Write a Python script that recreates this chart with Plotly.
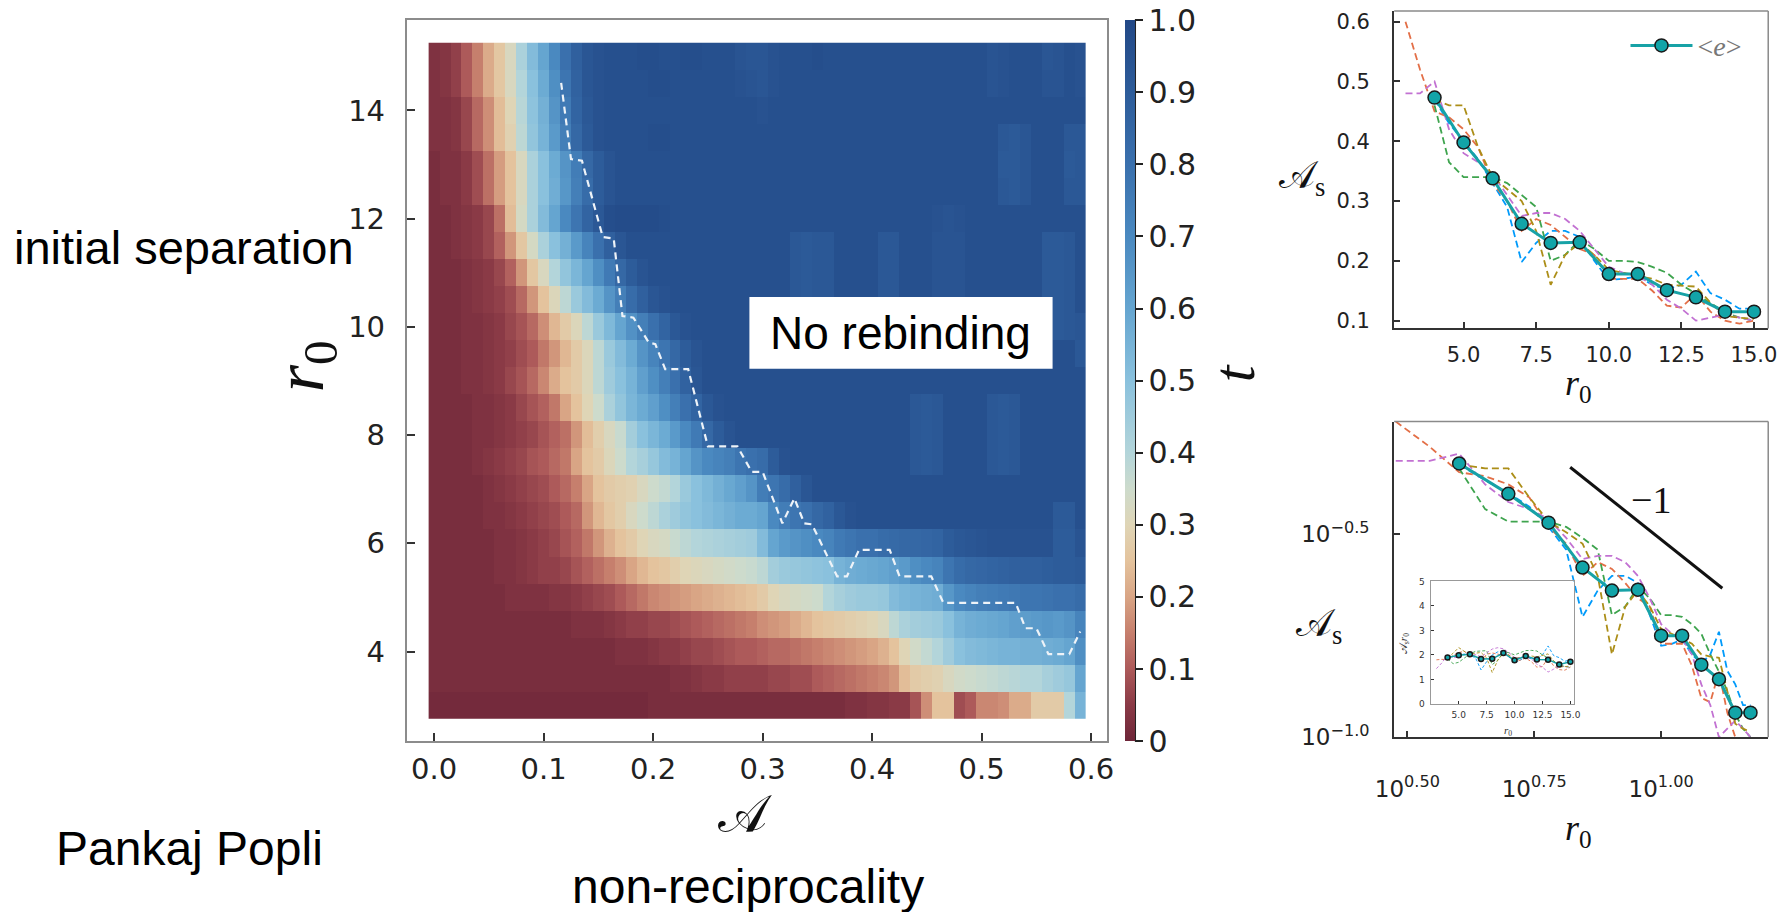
import plotly.graph_objects as go

W, H = 1791, 912
def px(x): return x / W
def py(y): return 1 - y / H

# ---------------- heatmap data ----------------
A_grid = [0.00, 0.01, 0.02, 0.03, 0.04, 0.05, 0.06, 0.07, 0.08, 0.09,
          0.10, 0.11, 0.12, 0.13, 0.14, 0.15, 0.16, 0.17, 0.18, 0.19,
          0.20, 0.21, 0.22, 0.23, 0.24, 0.25, 0.26, 0.27, 0.28, 0.29,
          0.30, 0.31, 0.32, 0.33, 0.34, 0.35, 0.36, 0.37, 0.38, 0.39,
          0.40, 0.41, 0.42, 0.43, 0.44, 0.45, 0.46, 0.47, 0.48, 0.49,
          0.50, 0.51, 0.52, 0.53, 0.54, 0.55, 0.56, 0.57, 0.58, 0.59]
r0_grid = [3.0, 3.5, 4.0, 4.5, 5.0, 5.5, 6.0, 6.5, 7.0, 7.5, 8.0, 8.5, 9.0,
           9.5, 10.0, 10.5, 11.0, 11.5, 12.0, 12.5, 13.0, 13.5, 14.0, 14.5, 15.0]

t_r15_0 = [0.03,0.04,0.06,0.10,0.15,0.21,0.26,0.32,0.42,0.52,
           0.60,0.70,0.80,0.88,0.93,0.95,0.96,0.96,0.96,0.97,
           0.97,0.96,0.96,0.97,0.97,0.96,0.96,0.96,0.94,0.93,
           0.93,0.95,0.96,0.96,0.96,0.97,0.96,0.96,0.96,0.96,
           0.96,0.96,0.96,0.96,0.96,0.96,0.96,0.96,0.96,0.96,
           0.96,0.94,0.95,0.96,0.96,0.96,0.93,0.94,0.96,0.95]
t_r14_5 = [0.03,0.04,0.06,0.10,0.15,0.21,0.26,0.32,0.40,0.50,
           0.58,0.68,0.78,0.87,0.93,0.95,0.96,0.96,0.96,0.96,
           0.97,0.97,0.96,0.96,0.96,0.96,0.96,0.96,0.95,0.94,
           0.93,0.95,0.96,0.96,0.96,0.96,0.96,0.96,0.96,0.96,
           0.96,0.96,0.96,0.96,0.96,0.96,0.96,0.96,0.96,0.96,
           0.96,0.94,0.95,0.96,0.96,0.96,0.94,0.94,0.96,0.95]
t_r14_0 = [0.03,0.03,0.04,0.07,0.12,0.17,0.24,0.30,0.39,0.49,
           0.56,0.66,0.76,0.86,0.92,0.95,0.96,0.96,0.96,0.96,
           0.96,0.96,0.96,0.96,0.96,0.96,0.96,0.96,0.96,0.96,
           0.95,0.96,0.96,0.96,0.96,0.96,0.96,0.96,0.96,0.96,
           0.96,0.96,0.96,0.96,0.96,0.96,0.96,0.96,0.96,0.96,
           0.96,0.96,0.96,0.96,0.96,0.96,0.96,0.96,0.96,0.96]
t_r13_5 = [0.03,0.03,0.04,0.07,0.12,0.17,0.24,0.29,0.38,0.48,
           0.55,0.64,0.74,0.84,0.91,0.95,0.96,0.96,0.96,0.96,
           0.97,0.97,0.96,0.96,0.96,0.96,0.96,0.96,0.96,0.96,
           0.96,0.96,0.96,0.96,0.96,0.96,0.96,0.96,0.96,0.96,
           0.96,0.96,0.96,0.96,0.96,0.96,0.96,0.96,0.96,0.96,
           0.96,0.96,0.92,0.91,0.93,0.96,0.96,0.96,0.92,0.92]
t_r13_0 = [0.02,0.03,0.03,0.05,0.08,0.13,0.19,0.25,0.32,0.42,
           0.50,0.58,0.66,0.75,0.84,0.90,0.94,0.96,0.96,0.96,
           0.96,0.96,0.96,0.96,0.96,0.96,0.96,0.96,0.96,0.96,
           0.96,0.96,0.96,0.96,0.96,0.96,0.96,0.96,0.96,0.96,
           0.96,0.96,0.96,0.96,0.96,0.96,0.96,0.96,0.96,0.96,
           0.96,0.96,0.91,0.91,0.93,0.96,0.96,0.96,0.91,0.92]
t_r12_5 = [0.02,0.03,0.03,0.05,0.08,0.13,0.19,0.25,0.32,0.42,
           0.50,0.57,0.65,0.74,0.82,0.90,0.94,0.96,0.96,0.96,
           0.96,0.96,0.96,0.96,0.96,0.96,0.96,0.96,0.96,0.96,
           0.96,0.96,0.96,0.96,0.96,0.96,0.96,0.96,0.96,0.96,
           0.96,0.96,0.96,0.96,0.96,0.96,0.96,0.96,0.96,0.96,
           0.96,0.96,0.92,0.91,0.93,0.96,0.96,0.96,0.92,0.92]
t_r12_0 = [0.02,0.02,0.03,0.04,0.05,0.07,0.13,0.24,0.33,0.42,
           0.52,0.60,0.70,0.78,0.86,0.92,0.97,0.98,0.98,0.98,
           0.98,0.97,0.96,0.96,0.96,0.96,0.96,0.96,0.96,0.96,
           0.96,0.96,0.96,0.96,0.96,0.96,0.96,0.96,0.96,0.96,
           0.96,0.96,0.96,0.96,0.96,0.96,0.95,0.94,0.95,0.96,
           0.96,0.96,0.96,0.96,0.96,0.96,0.96,0.96,0.96,0.96]
t_r11_5 = [0.02,0.02,0.03,0.04,0.05,0.07,0.11,0.18,0.26,0.33,
           0.42,0.50,0.56,0.64,0.72,0.80,0.88,0.93,0.96,0.96,
           0.96,0.96,0.96,0.96,0.96,0.96,0.96,0.96,0.96,0.96,
           0.96,0.96,0.96,0.92,0.91,0.92,0.92,0.96,0.96,0.96,
           0.96,0.92,0.92,0.96,0.96,0.96,0.94,0.94,0.94,0.96,
           0.96,0.96,0.96,0.96,0.96,0.96,0.91,0.91,0.92,0.96]
t_r11_0 = [0.02,0.02,0.02,0.03,0.04,0.05,0.07,0.11,0.18,0.26,
           0.32,0.40,0.48,0.54,0.60,0.68,0.76,0.84,0.90,0.94,
           0.96,0.96,0.96,0.96,0.96,0.96,0.96,0.96,0.96,0.96,
           0.96,0.96,0.96,0.92,0.91,0.92,0.92,0.96,0.96,0.96,
           0.96,0.92,0.92,0.96,0.96,0.96,0.94,0.94,0.94,0.96,
           0.96,0.96,0.96,0.96,0.96,0.96,0.91,0.91,0.92,0.96]
t_r10_5 = [0.02,0.02,0.02,0.03,0.04,0.05,0.06,0.08,0.12,0.18,
           0.25,0.31,0.38,0.46,0.52,0.58,0.66,0.74,0.82,0.88,
           0.93,0.95,0.96,0.96,0.96,0.96,0.96,0.96,0.96,0.96,
           0.96,0.96,0.96,0.92,0.91,0.92,0.92,0.96,0.96,0.96,
           0.96,0.92,0.92,0.96,0.96,0.96,0.94,0.94,0.94,0.96,
           0.96,0.96,0.96,0.96,0.96,0.96,0.91,0.91,0.92,0.96]
t_r10_0 = [0.02,0.02,0.02,0.03,0.03,0.04,0.05,0.07,0.09,0.12,
           0.17,0.23,0.27,0.31,0.38,0.46,0.53,0.60,0.67,0.74,
           0.80,0.86,0.92,0.95,0.96,0.96,0.96,0.96,0.96,0.96,
           0.96,0.96,0.96,0.96,0.96,0.96,0.96,0.96,0.96,0.96,
           0.96,0.96,0.96,0.96,0.96,0.96,0.96,0.96,0.96,0.96,
           0.96,0.96,0.96,0.96,0.96,0.96,0.92,0.91,0.92,0.93]
t_r9_5 = [0.02,0.02,0.02,0.03,0.03,0.04,0.05,0.06,0.08,0.10,
          0.14,0.18,0.23,0.27,0.31,0.38,0.46,0.52,0.58,0.66,
          0.72,0.78,0.84,0.90,0.94,0.96,0.96,0.96,0.96,0.96,
          0.96,0.96,0.96,0.96,0.96,0.96,0.96,0.96,0.96,0.96,
          0.96,0.96,0.96,0.96,0.96,0.96,0.96,0.96,0.96,0.96,
          0.96,0.96,0.96,0.96,0.96,0.96,0.96,0.96,0.96,0.92]
t_r9_0 = [0.02,0.02,0.02,0.03,0.03,0.04,0.05,0.07,0.09,0.12,
          0.16,0.21,0.25,0.27,0.31,0.38,0.45,0.50,0.55,0.62,
          0.68,0.74,0.80,0.87,0.93,0.96,0.96,0.96,0.96,0.96,
          0.96,0.96,0.96,0.96,0.96,0.96,0.96,0.96,0.96,0.96,
          0.96,0.96,0.96,0.96,0.96,0.96,0.96,0.96,0.96,0.96,
          0.96,0.96,0.96,0.96,0.96,0.96,0.96,0.96,0.96,0.96]
t_r8_5 = [0.02,0.02,0.02,0.02,0.03,0.03,0.04,0.05,0.07,0.09,
          0.11,0.14,0.20,0.25,0.30,0.35,0.42,0.48,0.54,0.58,
          0.62,0.68,0.74,0.80,0.86,0.92,0.95,0.96,0.96,0.96,
          0.96,0.96,0.96,0.96,0.96,0.96,0.96,0.96,0.96,0.96,
          0.96,0.96,0.96,0.96,0.92,0.91,0.92,0.96,0.96,0.96,
          0.96,0.92,0.91,0.92,0.96,0.96,0.96,0.96,0.96,0.96]
t_r8_0 = [0.02,0.02,0.02,0.02,0.03,0.03,0.04,0.05,0.06,0.07,
          0.09,0.11,0.13,0.18,0.24,0.28,0.32,0.36,0.44,0.50,
          0.54,0.58,0.64,0.70,0.76,0.84,0.90,0.94,0.96,0.96,
          0.96,0.96,0.96,0.96,0.96,0.96,0.96,0.96,0.96,0.96,
          0.96,0.96,0.96,0.96,0.92,0.91,0.92,0.96,0.96,0.96,
          0.96,0.92,0.91,0.92,0.96,0.96,0.96,0.96,0.96,0.96]
t_r7_5 = [0.02,0.02,0.02,0.02,0.03,0.04,0.05,0.06,0.07,0.09,
          0.10,0.12,0.14,0.20,0.25,0.27,0.31,0.35,0.40,0.43,
          0.47,0.52,0.55,0.60,0.66,0.70,0.72,0.74,0.78,0.80,
          0.82,0.90,0.95,0.96,0.96,0.96,0.96,0.96,0.96,0.96,
          0.96,0.96,0.96,0.96,0.92,0.91,0.92,0.96,0.96,0.96,
          0.96,0.92,0.91,0.92,0.96,0.96,0.96,0.96,0.96,0.96]
t_r7_0 = [0.02,0.02,0.02,0.02,0.02,0.03,0.04,0.05,0.06,0.07,
          0.08,0.10,0.12,0.15,0.20,0.25,0.27,0.28,0.29,0.32,
          0.35,0.37,0.40,0.46,0.50,0.53,0.56,0.59,0.62,0.66,
          0.75,0.78,0.82,0.88,0.93,0.96,0.96,0.96,0.96,0.96,
          0.96,0.96,0.96,0.96,0.96,0.96,0.96,0.96,0.96,0.96,
          0.96,0.96,0.96,0.96,0.96,0.96,0.96,0.96,0.96,0.96]
t_r6_5 = [0.02,0.02,0.02,0.02,0.02,0.03,0.03,0.04,0.05,0.06,
          0.07,0.08,0.10,0.12,0.18,0.23,0.26,0.28,0.32,0.35,
          0.38,0.42,0.45,0.48,0.50,0.52,0.54,0.56,0.58,0.58,
          0.60,0.70,0.75,0.78,0.80,0.84,0.87,0.92,0.95,0.96,
          0.96,0.96,0.96,0.96,0.96,0.96,0.96,0.96,0.96,0.96,
          0.96,0.96,0.96,0.96,0.96,0.96,0.96,0.91,0.91,0.96]
t_r6_0 = [0.02,0.02,0.02,0.02,0.02,0.02,0.03,0.03,0.04,0.05,
          0.06,0.07,0.09,0.11,0.14,0.18,0.22,0.25,0.27,0.30,
          0.32,0.33,0.36,0.38,0.40,0.41,0.42,0.43,0.44,0.45,
          0.52,0.60,0.64,0.66,0.68,0.70,0.72,0.76,0.78,0.80,
          0.80,0.82,0.83,0.84,0.84,0.85,0.86,0.90,0.92,0.93,
          0.94,0.95,0.95,0.95,0.95,0.95,0.95,0.90,0.90,0.94]
t_r5_5 = [0.02,0.02,0.02,0.02,0.02,0.02,0.03,0.03,0.04,0.05,
          0.06,0.06,0.07,0.09,0.11,0.13,0.15,0.17,0.20,0.23,
          0.25,0.26,0.28,0.30,0.31,0.32,0.33,0.34,0.35,0.36,
          0.38,0.44,0.46,0.47,0.48,0.49,0.50,0.55,0.57,0.58,
          0.59,0.60,0.62,0.64,0.68,0.70,0.72,0.78,0.82,0.84,
          0.85,0.86,0.87,0.88,0.88,0.88,0.89,0.90,0.90,0.91]
t_r5_0 = [0.02,0.02,0.02,0.02,0.02,0.02,0.02,0.03,0.03,0.03,
          0.03,0.04,0.04,0.05,0.06,0.07,0.08,0.10,0.12,0.14,
          0.16,0.17,0.18,0.19,0.20,0.21,0.22,0.23,0.24,0.25,
          0.27,0.30,0.32,0.33,0.34,0.35,0.40,0.43,0.45,0.46,
          0.46,0.47,0.52,0.54,0.55,0.56,0.57,0.65,0.70,0.72,
          0.74,0.75,0.76,0.77,0.78,0.78,0.79,0.80,0.80,0.82]
t_r4_5 = [0.02,0.02,0.02,0.02,0.02,0.02,0.02,0.02,0.02,0.02,
          0.02,0.02,0.02,0.03,0.03,0.03,0.04,0.05,0.06,0.06,
          0.07,0.07,0.08,0.09,0.10,0.11,0.12,0.13,0.14,0.15,
          0.17,0.18,0.19,0.21,0.23,0.25,0.26,0.27,0.28,0.29,
          0.30,0.32,0.38,0.42,0.44,0.45,0.46,0.50,0.55,0.57,
          0.58,0.59,0.60,0.62,0.63,0.64,0.65,0.64,0.66,0.72]
t_r4_0 = [0.02,0.02,0.02,0.02,0.02,0.02,0.02,0.02,0.02,0.02,
          0.02,0.02,0.02,0.02,0.02,0.02,0.02,0.03,0.03,0.03,
          0.04,0.05,0.05,0.06,0.07,0.07,0.08,0.09,0.10,0.10,
          0.11,0.12,0.12,0.13,0.14,0.15,0.16,0.17,0.18,0.19,
          0.20,0.22,0.25,0.30,0.34,0.37,0.40,0.45,0.50,0.52,
          0.53,0.54,0.55,0.55,0.56,0.56,0.57,0.58,0.60,0.68]
t_r3_5 = [0.02,0.02,0.02,0.02,0.02,0.02,0.02,0.02,0.02,0.02,
          0.02,0.02,0.02,0.02,0.02,0.02,0.02,0.02,0.02,0.02,
          0.02,0.02,0.03,0.03,0.04,0.05,0.05,0.06,0.06,0.06,
          0.06,0.07,0.07,0.08,0.08,0.10,0.11,0.12,0.13,0.14,
          0.15,0.16,0.18,0.24,0.27,0.28,0.29,0.32,0.34,0.35,
          0.36,0.37,0.38,0.39,0.40,0.40,0.43,0.45,0.47,0.60]
t_r3_0 = [0.01,0.01,0.01,0.01,0.01,0.01,0.01,0.01,0.01,0.01,
          0.01,0.01,0.01,0.01,0.01,0.01,0.01,0.01,0.01,0.01,
          0.02,0.02,0.02,0.02,0.02,0.02,0.02,0.02,0.02,0.02,
          0.02,0.02,0.02,0.02,0.02,0.02,0.02,0.02,0.03,0.03,
          0.04,0.04,0.05,0.05,0.09,0.17,0.25,0.25,0.08,0.10,
          0.16,0.16,0.17,0.21,0.21,0.27,0.27,0.27,0.40,0.55]

# threshold (white dashed) line
thr_A = [0.116, 0.125, 0.135, 0.154, 0.164, 0.172, 0.182, 0.196, 0.202, 0.211,
         0.232, 0.250, 0.277, 0.290, 0.300, 0.318, 0.329, 0.338, 0.345, 0.368,
         0.377, 0.388, 0.416, 0.425, 0.454, 0.465, 0.531, 0.540, 0.550, 0.561,
         0.580, 0.590]
thr_r0 = [14.51, 13.10, 13.07, 11.66, 11.63, 10.20, 10.17, 9.71, 9.68, 9.22,
          9.22, 7.79, 7.79, 7.32, 7.32, 6.37, 6.83, 6.37, 6.35, 5.39,
          5.39, 5.88, 5.88, 5.39, 5.39, 4.90, 4.90, 4.43, 4.43, 3.95,
          3.95, 4.37]

# ---------------- right panels data ----------------
run_r0 = [3.0, 3.5, 4.0, 4.5, 5.0, 5.5, 6.0, 6.5, 7.0, 7.5, 8.0, 8.5, 9.0,
          9.5, 10.0, 10.5, 11.0, 11.5, 12.0, 12.5, 13.0, 13.5, 14.0, 14.5, 15.0]
run_blue   = [None, None, 0.47, 0.43, 0.40, 0.37, 0.33, 0.29, 0.198, 0.23, 0.25, 0.25, 0.24,
              0.20, 0.168, 0.17, 0.174, 0.16, 0.152, 0.16, 0.182, 0.146, 0.135, 0.12, 0.12]
run_orange = [0.60, 0.52, 0.45, 0.44, 0.42, 0.39, 0.33, 0.30, 0.25, 0.27, 0.26, 0.24, 0.22,
              0.21, 0.17, 0.17, 0.17, 0.15, 0.125, 0.122, 0.145, 0.115, 0.10, 0.095, 0.10]
run_green  = [None, None, 0.46, 0.365, 0.34, 0.34, 0.34, 0.33, 0.31, 0.29, 0.20, 0.21, 0.235,
              0.22, 0.20, 0.20, 0.198, 0.19, 0.18, 0.16, 0.145, 0.13, 0.114, 0.105, 0.10]
run_purple = [0.48, 0.48, 0.50, 0.42, 0.38, 0.365, 0.345, 0.31, 0.275, 0.28, 0.28, 0.27, 0.25,
              0.22, 0.19, 0.18, 0.175, 0.16, 0.135, 0.12, 0.10, 0.105, 0.11, 0.105, 0.10]
run_olive  = [None, None, 0.47, 0.46, 0.46, 0.39, 0.34, 0.32, 0.30, 0.25, 0.16, 0.21, 0.23,
              0.21, 0.185, 0.18, 0.175, 0.17, 0.16, 0.158, 0.157, 0.13, 0.108, 0.105, 0.103]
run_colors = ["#009AFA", "#E36F47", "#3EA44E", "#C271D2", "#AC8E18"]
runs = [run_blue, run_orange, run_green, run_purple, run_olive]

mean_r0 = [4, 5, 6, 7, 8, 9, 10, 11, 12, 13, 14, 15]
mean_As = [0.473, 0.398, 0.338, 0.262, 0.230, 0.231, 0.178, 0.178, 0.151, 0.139, 0.115, 0.115]

slope_r0 = [6.62, 13.2]
slope_As = [0.463, 0.233]

# ---------------- figure ----------------
colorscale = [[0.0, '#6e2639'], [0.05, '#8a3a46'], [0.1, '#ad5a5a'], [0.15, '#c67f6d'],
              [0.2, '#d9a585'], [0.25, '#e4c39d'], [0.3, '#dfd5b6'], [0.35, '#cddbcc'],
              [0.4, '#b3d5da'], [0.5, '#8ac1dd'], [0.6, '#65a5d0'], [0.7, '#4a89c0'],
              [0.8, '#3a70ad'], [0.9, '#2d5c9a'], [1.0, '#224886']]

Z = [t_r3_0, t_r3_5, t_r4_0, t_r4_5, t_r5_0, t_r5_5, t_r6_0, t_r6_5, t_r7_0, t_r7_5,
     t_r8_0, t_r8_5, t_r9_0, t_r9_5, t_r10_0, t_r10_5, t_r11_0, t_r11_5, t_r12_0,
     t_r12_5, t_r13_0, t_r13_5, t_r14_0, t_r14_5, t_r15_0]

cb_ticks = [0, 0.1, 0.2, 0.3, 0.4, 0.5, 0.6, 0.7, 0.8, 0.9, 1.0]
cb_text = ["0", "0.1", "0.2", "0.3", "0.4", "0.5", "0.6", "0.7", "0.8", "0.9", "1.0"]

HM_L, HM_R, HM_T, HM_B = 394, 1105, 15, 751   # heatmap frame (px)
RP_L, RP_R = 1397, 1777                        # right panels frame (px)

fig = go.Figure()
fig.add_trace(go.Heatmap(
    x=A_grid, y=r0_grid, z=Z, zmin=0, zmax=1, colorscale=colorscale, zsmooth=False,
    xaxis='x', yaxis='y', hoverinfo='skip',
    colorbar=dict(thickness=10, thicknessmode='pixels', len=(HM_B - HM_T) / H, lenmode='fraction',
                  x=px(1124), xanchor='left', xpad=0, y=py(HM_B), yanchor='bottom', ypad=0,
                  outlinewidth=0, tickvals=cb_ticks, ticktext=cb_text, ticks='outside',
                  ticklen=8, tickwidth=1.5, tickcolor='#222',
                  tickfont=dict(family='DejaVu Sans', size=30, color='#222'))))
fig.add_trace(go.Scatter(x=thr_A, y=thr_r0, mode='lines', xaxis='x', yaxis='y',
                         line=dict(color='#eef3f8', width=2.2, dash='7px,5px'),
                         showlegend=False, hoverinfo='skip'))

def add_runs(xa, ya, width, dash, scale_by_r0=False):
    for vals, col in zip(runs, run_colors):
        xs, ys = [], []
        for r, v in zip(run_r0, vals):
            if v is None:
                continue
            xs.append(r)
            ys.append(v * r if scale_by_r0 else v)
        fig.add_trace(go.Scatter(x=xs, y=ys, mode='lines', xaxis=xa, yaxis=ya,
                                 line=dict(color=col, width=width, dash=dash),
                                 showlegend=False, hoverinfo='skip'))

def add_mean(xa, ya, msize, lw, legend=False, scale_by_r0=False):
    ys = [v * r for r, v in zip(mean_r0, mean_As)] if scale_by_r0 else mean_As
    fig.add_trace(go.Scatter(x=mean_r0, y=ys, mode='lines+markers', xaxis=xa, yaxis=ya,
                             name='&lt;<i>e</i>&gt;', showlegend=legend,
                             line=dict(color='#17a2a6', width=lw),
                             marker=dict(size=msize, color='#12a4a8',
                                         line=dict(color='#1a1a1a', width=1.5)),
                             hoverinfo='skip'))

add_runs('x2', 'y2', 1.8, '7px,4px')
add_mean('x2', 'y2', 13, 3, legend=True)
add_runs('x3', 'y3', 1.8, '7px,4px')
add_mean('x3', 'y3', 13, 3)
fig.add_trace(go.Scatter(x=slope_r0, y=slope_As, mode='lines', xaxis='x3', yaxis='y3',
                         line=dict(color='#111', width=3), showlegend=False, hoverinfo='skip'))
add_runs('x4', 'y4', 0.9, '3px,2px', scale_by_r0=True)
add_mean('x4', 'y4', 5, 1.5, scale_by_r0=True)

tick_font = dict(family='DejaVu Sans', size=29, color='#222')
rfont = dict(family='DejaVu Sans', size=21, color='#222')

def ax(**kw):
    base = dict(showgrid=False, zeroline=False, showline=True, mirror=True,
                ticks='inside', ticklen=8, tickwidth=1.5, tickcolor='#333')
    base.update(kw)
    return base

fig.update_layout(
    width=W, height=H, margin=dict(l=0, r=0, t=0, b=0),
    paper_bgcolor='white', plot_bgcolor='white',
    xaxis=ax(domain=[px(HM_L), px(HM_R)], range=[-0.0249, 0.6142], anchor='y',
             tickvals=[0, 0.1, 0.2, 0.3, 0.4, 0.5, 0.6],
             ticktext=['0.0', '0.1', '0.2', '0.3', '0.4', '0.5', '0.6'],
             tickfont=tick_font, linecolor='#8c8c8c', linewidth=2, ticklabelstandoff=1),
    yaxis=ax(domain=[py(HM_B), py(HM_T)], range=[2.343, 15.676], anchor='x',
             tickvals=[4, 6, 8, 10, 12, 14], tickfont=tick_font,
             linecolor='#8c8c8c', linewidth=2, ticklabelstandoff=14),
    xaxis2=ax(domain=[px(RP_L), px(RP_R)], range=[2.61, 15.49], anchor='y2', mirror=False,
              tickvals=[5, 7.5, 10, 12.5, 15], ticktext=['5.0', '7.5', '10.0', '12.5', '15.0'],
              tickfont=rfont, linecolor='#333', linewidth=2, ticklen=6, ticklabelstandoff=6),
    yaxis2=ax(domain=[py(330), py(6)], range=[0.0869, 0.618], anchor='x2', mirror=False,
              tickvals=[0.1, 0.2, 0.3, 0.4, 0.5, 0.6],
              ticktext=['0.1', '0.2', '0.3', '0.4', '0.5', '0.6'],
              tickfont=rfont, linecolor='#333', linewidth=2, ticklen=6, ticklabelstandoff=18),
    xaxis3=ax(type='log', domain=[px(RP_L), px(RP_R)], range=[0.474, 1.211], anchor='y3', mirror=False,
              tickvals=[10 ** 0.5, 10 ** 0.75, 10.0],
              ticktext=['10<sup>0.50</sup>', '10<sup>0.75</sup>', '10<sup>1.00</sup>'],
              tickfont=dict(family='DejaVu Sans', size=23, color='#222'),
              linecolor='#333', linewidth=2, ticklen=6, ticklabelstandoff=30),
    yaxis3=ax(type='log', domain=[py(747), py(425)], range=[-1.0, -0.222], anchor='x3', mirror=False,
              tickvals=[10 ** -1.0, 10 ** -0.5],
              ticktext=['10<sup>\u22121.0</sup>', '10<sup>\u22120.5</sup>'],
              tickfont=dict(family='DejaVu Sans', size=23, color='#222'),
              linecolor='#333', linewidth=2, ticklen=6, ticklabelstandoff=18),
    xaxis4=ax(domain=[px(1434), px(1580)], range=[2.48, 15.35], anchor='y4',
              tickvals=[5, 7.5, 10, 12.5, 15], ticktext=['5.0', '7.5', '10.0', '12.5', '15.0'],
              tickfont=dict(family='DejaVu Sans', size=9, color='#333'),
              linecolor='#999', linewidth=1, ticklen=3, tickwidth=1, ticklabelstandoff=2),
    yaxis4=ax(domain=[py(713), py(588)], range=[0, 5], anchor='x4',
              tickvals=[0, 1, 2, 3, 4, 5],
              tickfont=dict(family='DejaVu Sans', size=9, color='#333'),
              linecolor='#999', linewidth=1, ticklen=3, tickwidth=1, ticklabelstandoff=3),
    showlegend=True,
    legend=dict(x=px(1632), y=py(16), xanchor='left', yanchor='top',
                bgcolor='rgba(0,0,0,0)', borderwidth=0, itemwidth=62,
                font=dict(family='Liberation Serif', size=28, color='#777')),
)

serif = 'Liberation Serif, DejaVu Serif, serif'
sans = 'Liberation Sans, Arial, sans-serif'
annos = [
    dict(x=px(168), y=py(247), text='initial separation', font=dict(family=sans, size=47, color='black')),
    dict(x=px(173), y=py(860), text='Pankaj Popli', font=dict(family=sans, size=48, color='black')),
    dict(x=px(741), y=py(899), text='non-reciprocality', font=dict(family=sans, size=48, color='black')),
    dict(x=px(896), y=py(335), text='No rebinding', font=dict(family=sans, size=46, color='black')),
    dict(x=px(738), y=py(826), text='\U0001D49C', font=dict(family=serif, size=52, color='#111')),
    dict(x=px(290), y=py(368), text='<i>r</i><sub>0</sub>', textangle=-90,
         font=dict(family=serif, size=70, color='#111')),
    dict(x=px(1234), y=py(376), text='<i>t</i>', textangle=-90,
         font=dict(family=serif, size=60, color='#111')),
    dict(x=px(1303), y=py(176), text='\U0001D49C<sub>s</sub>', font=dict(family=serif, size=38, color='#111')),
    dict(x=px(1584), y=py(388), text='<i>r</i><sub>0</sub>', font=dict(family=serif, size=36, color='#111')),
    dict(x=px(1321), y=py(633), text='\U0001D49C<sub>s</sub>', font=dict(family=serif, size=38, color='#111')),
    dict(x=px(1584), y=py(842), text='<i>r</i><sub>0</sub>', font=dict(family=serif, size=36, color='#111')),
    dict(x=px(1658), y=py(505), text='\u22121', font=dict(family=serif, size=38, color='#111')),
    dict(x=px(1513), y=py(741), text='<i>r</i><sub>0</sub>', font=dict(family=serif, size=11, color='#333')),
    dict(x=px(1407), y=py(652), text='\U0001D49C<sub>s</sub><i>r</i><sub>0</sub>', textangle=-90,
         font=dict(family=serif, size=11, color='#333')),
]
for a in annos:
    a.update(xref='paper', yref='paper', showarrow=False, xanchor='center', yanchor='middle')
fig.update_layout(annotations=annos)

frame_gray = dict(color='#8a8a8a', width=1.5)
fig.update_layout(shapes=[
    dict(type='rect', xref='paper', yref='paper', x0=px(742), x1=px(1050), y0=py(371), y1=py(298),
         fillcolor='white', line=dict(width=0), layer='above'),
    dict(type='line', xref='paper', yref='paper', x0=px(1134), x1=px(1134), y0=py(HM_B), y1=py(HM_T),
         line=dict(color='#222', width=1.5), layer='above'),
    # lighter top/right frame lines of the two right panels
    dict(type='line', xref='x2 domain', yref='y2 domain', x0=0, x1=1, y0=1, y1=1, line=frame_gray),
    dict(type='line', xref='x2 domain', yref='y2 domain', x0=1, x1=1, y0=0, y1=1, line=frame_gray),
    dict(type='line', xref='x3 domain', yref='y3 domain', x0=0, x1=1, y0=1, y1=1, line=frame_gray),
    dict(type='line', xref='x3 domain', yref='y3 domain', x0=1, x1=1, y0=0, y1=1, line=frame_gray),
])

fig.write_html("out.html", config={'displayModeBar': False},
               post_script="document.body.style.margin='0';document.body.style.overflow='hidden';")
